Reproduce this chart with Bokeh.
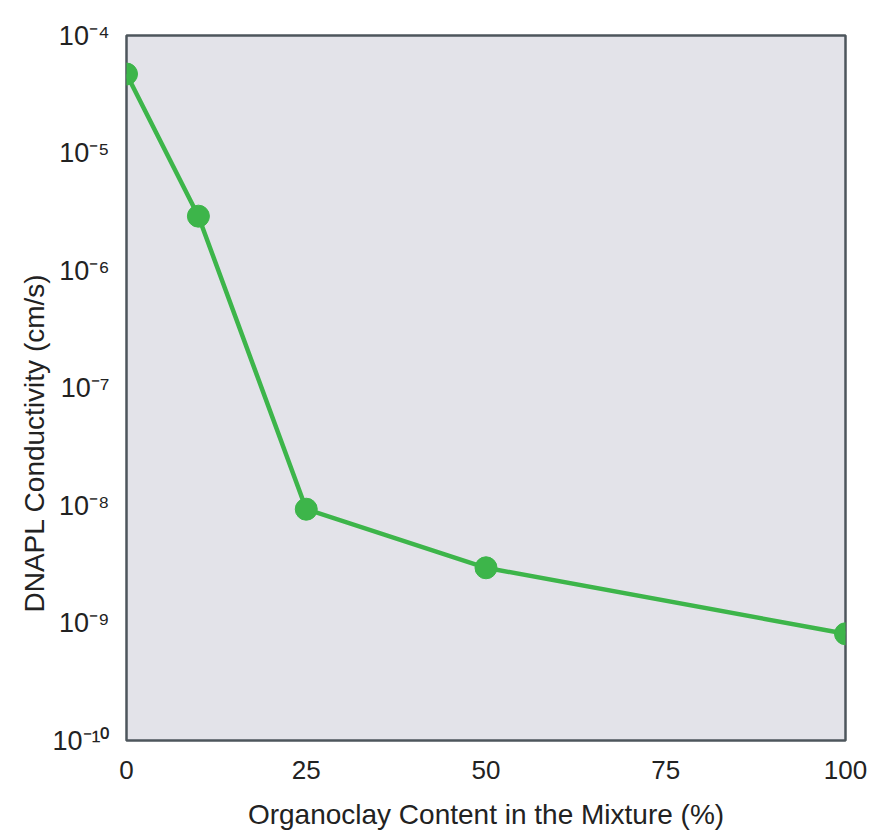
from bokeh.plotting import figure
from bokeh.models import Range1d, FixedTicker, Title
from bokeh.embed import file_html
from bokeh.resources import INLINE

# Data
organoclay_pct = [0, 10, 25, 50, 100]
conductivity = [4.7e-5, 2.9e-6, 9.3e-9, 2.95e-9, 8.1e-10]

x_ticks = [0, 25, 50, 75, 100]
y_ticks = [1e-10, 1e-9, 1e-8, 1e-7, 1e-6, 1e-5, 1e-4]
y_tick_labels = ["10⁻¹⁰", "10⁻⁹", "10⁻⁸", "10⁻⁷", "10⁻⁶", "10⁻⁵", "10⁻⁴"]

GREEN = "#3db54a"
FONT = "Liberation Sans"

p = figure(width=870, height=832, y_axis_type="log",
           x_range=Range1d(0, 100), y_range=Range1d(1e-10, 1e-4),
           output_backend="svg", toolbar_location=None,
           min_border_left=126, min_border_right=25,
           min_border_top=35, min_border_bottom=92)

p.background_fill_color = "#e3e3e9"
p.border_fill_color = "white"
p.outline_line_color = "#4d565c"
p.outline_line_width = 2.5
p.grid.visible = False

p.line(organoclay_pct, conductivity, line_color=GREEN, line_width=4.5)
p.scatter(organoclay_pct, conductivity, size=22, fill_color=GREEN, line_color=GREEN)

p.xaxis.ticker = FixedTicker(ticks=x_ticks)
p.yaxis.ticker = FixedTicker(ticks=y_ticks)
p.yaxis.major_label_overrides = dict(zip(y_ticks, y_tick_labels))

for ax in (p.xaxis[0], p.yaxis[0]):
    ax.axis_line_color = None
    ax.major_tick_line_color = None
    ax.minor_tick_line_color = None
    ax.major_label_text_font = FONT
    ax.major_label_text_color = "#222222"
    ax.axis_label_text_font = FONT
    ax.axis_label_text_font_style = "normal"
    ax.axis_label_text_color = "#222222"

p.xaxis.major_label_text_font_size = "26px"
p.yaxis.major_label_text_font_size = "27px"
p.xaxis.major_label_standoff = 14
p.yaxis.major_label_standoff = 11
p.xaxis.axis_label = "Organoclay Content in the Mixture (%)"
p.xaxis.axis_label_text_font_size = "28px"
p.xaxis.axis_label_standoff = 17

ylab = Title(text="DNAPL Conductivity (cm/s)", align="left", offset=128,
             text_font=FONT, text_font_size="28px", text_font_style="normal",
             text_color="#222222", standoff=0)
p.add_layout(ylab, "left")

open("out.html", "w").write(file_html(p, INLINE))
